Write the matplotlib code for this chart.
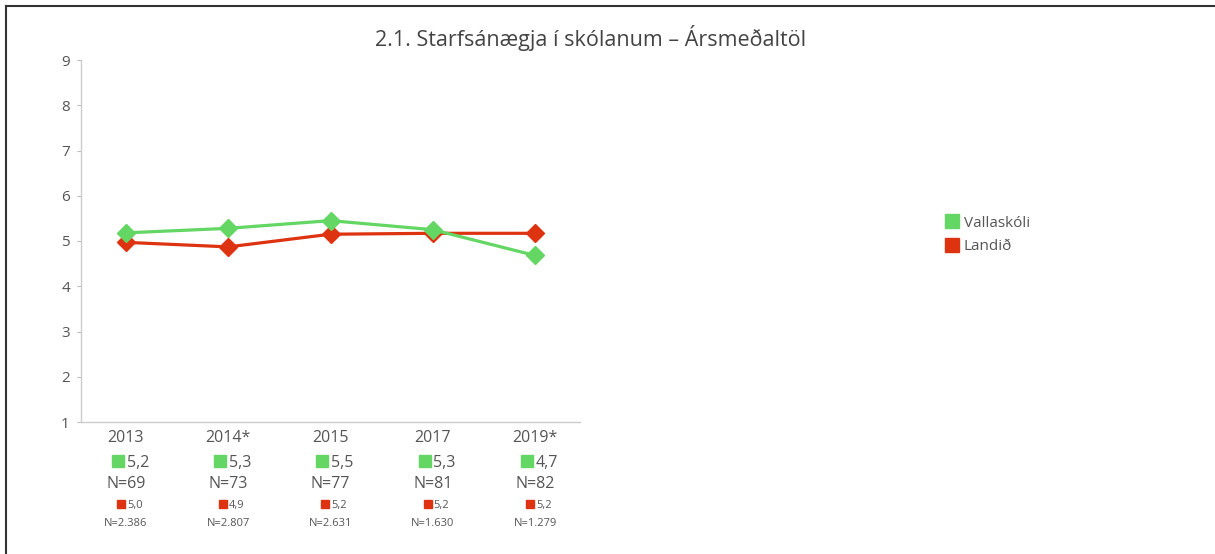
import matplotlib.pyplot as plt
from matplotlib.lines import Line2D
from matplotlib.transforms import blended_transform_factory

plt.rcParams['font.family'] = ['Open Sans', 'DejaVu Sans']

# data
years = ['2013', '2014*', '2015', '2017', '2019*']
valla = [5.18, 5.28, 5.45, 5.25, 4.68]
landid = [4.97, 4.87, 5.15, 5.17, 5.17]
valla_lbl = ['5,2', '5,3', '5,5', '5,3', '4,7']
valla_n = ['N=69', 'N=73', 'N=77', 'N=81', 'N=82']
land_lbl = ['5,0', '4,9', '5,2', '5,2', '5,2']
land_n = ['N=2.386', 'N=2.807', 'N=2.631', 'N=1.630', 'N=1.279']

green = '#63d663'
red = '#dd3311'
gray = '#555555'

W, H = 1215, 554
fig = plt.figure(figsize=(W / 100, H / 100), dpi=100)
ax = fig.add_axes([81 / W, 1 - 422 / H, (580 - 81) / W, (422 - 60) / H])

x = list(range(len(years)))
ax.plot(x, landid, color=red, lw=2.3, marker='D', ms=9.5, zorder=3)
ax.plot(x, valla, color=green, lw=2.3, marker='D', ms=9.5, zorder=4)

ax.set_ylim(1, 9)
ax.set_xlim(-0.44, 4.44)
ax.set_yticks(range(1, 10))
ax.set_xticks([])
ax.tick_params(axis='y', length=3, color='#bbbbbb', labelsize=11, labelcolor=gray, pad=5)
for s in ['top', 'right']:
    ax.spines[s].set_visible(False)
for s in ['left', 'bottom']:
    ax.spines[s].set_color('#cccccc')
    ax.spines[s].set_linewidth(1)

# category labels below the axis
tr = blended_transform_factory(ax.transData, fig.transFigure)
def fy(py):
    return 1 - py / H

for i in x:
    ax.text(i, fy(436), years[i], transform=tr, ha='center', va='center_baseline', fontsize=11.5, color=gray)
    ax.plot([i - 0.08], [fy(461)], marker='s', ms=9, color=green, transform=tr, clip_on=False)
    ax.text(i + 0.005, fy(461), valla_lbl[i], transform=tr, ha='left', va='center_baseline', fontsize=11.5, color=gray)
    ax.text(i, fy(482), valla_n[i], transform=tr, ha='center', va='center_baseline', fontsize=11.5, color=gray)
    ax.plot([i - 0.05], [fy(504)], marker='s', ms=6, color=red, transform=tr, clip_on=False)
    ax.text(i + 0.01, fy(504), land_lbl[i], transform=tr, ha='left', va='center_baseline', fontsize=8, color=gray)
    ax.text(i, fy(522), land_n[i], transform=tr, ha='center', va='center_baseline', fontsize=8, color=gray)

fig.text(591 / W, fy(38), '2.1. Starfsánægja í skólanum – Ársmeðaltöl', ha='center', va='center',
         fontsize=15.5, color='#444444')

handles = [Line2D([], [], ls='none', marker='s', ms=10, color=green),
           Line2D([], [], ls='none', marker='s', ms=10, color=red)]
fig.legend(handles, ['Vallaskóli', 'Landið'], loc='upper left', bbox_to_anchor=(938 / W, fy(208)),
           frameon=False, fontsize=11, labelcolor=gray, handlelength=0.8, handletextpad=0.4,
           labelspacing=0.55, borderpad=0)

# frame lines at left and top
fig.add_artist(Line2D([6 / W, 6 / W], [0, fy(6)], color='#333333', lw=1.5, transform=fig.transFigure))
fig.add_artist(Line2D([6 / W, 1], [fy(6), fy(6)], color='#333333', lw=1.5, transform=fig.transFigure))

fig.savefig('out.png', dpi=100)
